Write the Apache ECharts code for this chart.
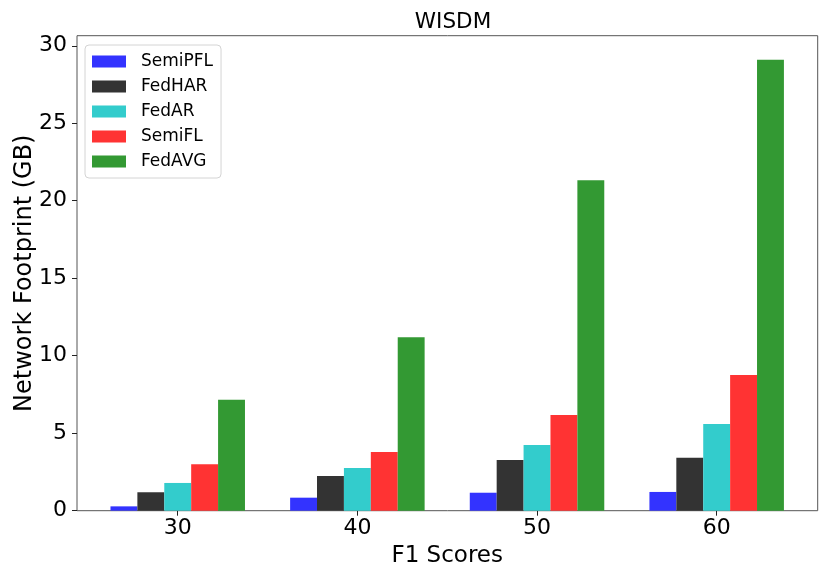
<!DOCTYPE html>
<html>
<head>
<meta charset="utf-8">
<script src="https://cdn.jsdelivr.net/npm/echarts@6/dist/echarts.min.js"></script>
<style>
html,body{margin:0;padding:0;background:#fff;}
#chart{width:830px;height:581px;}
</style>
</head>
<body>
<div id="chart"></div>
<script>
const categories = ['30', '40', '50', '60'];
const seriesNames = ['SemiPFL', 'FedHAR', 'FedAR', 'SemiFL', 'FedAVG'];
const semiPFL = [0.28, 0.84, 1.16, 1.21];
const fedHAR = [1.19, 2.24, 3.27, 3.42];
const fedAR = [1.79, 2.75, 4.24, 5.60];
const semiFL = [3.00, 3.79, 6.17, 8.76];
const fedAVG = [7.16, 11.19, 21.33, 29.10];
const yTicks = [0, 5, 10, 15, 20, 25, 30];
const colors = ['#3333ff', '#333333', '#33cccc', '#ff3333', '#339933'];

const FONT = 'DejaVu Sans';
const YMAX = 30.65;
const allValues = [semiPFL, fedHAR, fedAR, semiFL, fedAVG];

const chart = echarts.init(document.getElementById('chart'), null, {renderer: 'canvas'});
chart.setOption({
  animation: false,
  backgroundColor: '#ffffff',
  title: {
    text: 'WISDM',
    left: 448,
    textAlign: 'center',
    top: 6,
    textStyle: {fontFamily: FONT, fontSize: 21.5, fontWeight: 'normal', color: '#000'}
  },
  legend: {
    orient: 'vertical',
    left: 85,
    top: 45,
    padding: [8, 8, 8, 7],
    itemWidth: 34,
    itemHeight: 12,
    itemGap: 8,
    icon: 'rect',
    borderColor: '#d4d4d4',
    borderWidth: 1,
    borderRadius: 4,
    backgroundColor: 'rgba(255,255,255,0.8)',
    data: seriesNames,
    textStyle: {fontFamily: FONT, fontSize: 17, color: '#000', lineHeight: 17, padding: [0, 0, 0, 10]}
  },
  grid: [
    {left: 77, right: 12.3, top: 35.7, bottom: 70.3, show: true, borderColor: '#555', borderWidth: 1, backgroundColor: 'transparent'},
    {left: 87.9, right: 23.5, top: 35.7, bottom: 70.3}
  ],
  xAxis: [
    {gridIndex: 0, type: 'value', min: 0, max: 1, show: false},
    {
      gridIndex: 1, type: 'category', data: categories,
      axisLine: {show: false},
      axisTick: {show: true, alignWithLabel: true, length: 5, lineStyle: {color: '#222', width: 1}},
      axisLabel: {fontFamily: FONT, fontSize: 22, color: '#000', margin: 7},
      name: 'F1 Scores', nameLocation: 'middle', nameGap: 32,
      nameTextStyle: {fontFamily: FONT, fontSize: 23, color: '#000'},
      splitLine: {show: false}
    }
  ],
  yAxis: [
    {
      gridIndex: 0, type: 'value', min: 0, max: YMAX,
      axisLine: {show: false},
      axisTick: {show: true, length: 5, customValues: yTicks, lineStyle: {color: '#222', width: 1}},
      axisLabel: {fontFamily: FONT, fontSize: 22, color: '#000', margin: 10, customValues: yTicks},
      splitLine: {show: false},
      name: 'Network Footprint (GB)', nameLocation: 'middle', nameGap: 40,
      nameMoveOverlap: false,
      nameTextStyle: {fontFamily: FONT, fontSize: 24, color: '#000'}
    },
    {gridIndex: 1, type: 'value', min: 0, max: YMAX, show: false, splitLine: {show: false}}
  ],
  series: seriesNames.map((n, i) => ({
    name: n,
    type: 'bar',
    xAxisIndex: 1,
    yAxisIndex: 1,
    data: allValues[i],
    barWidth: 26.9,
    barGap: '0%',
    itemStyle: {color: colors[i]}
  }))
});
</script>
</body>
</html>
